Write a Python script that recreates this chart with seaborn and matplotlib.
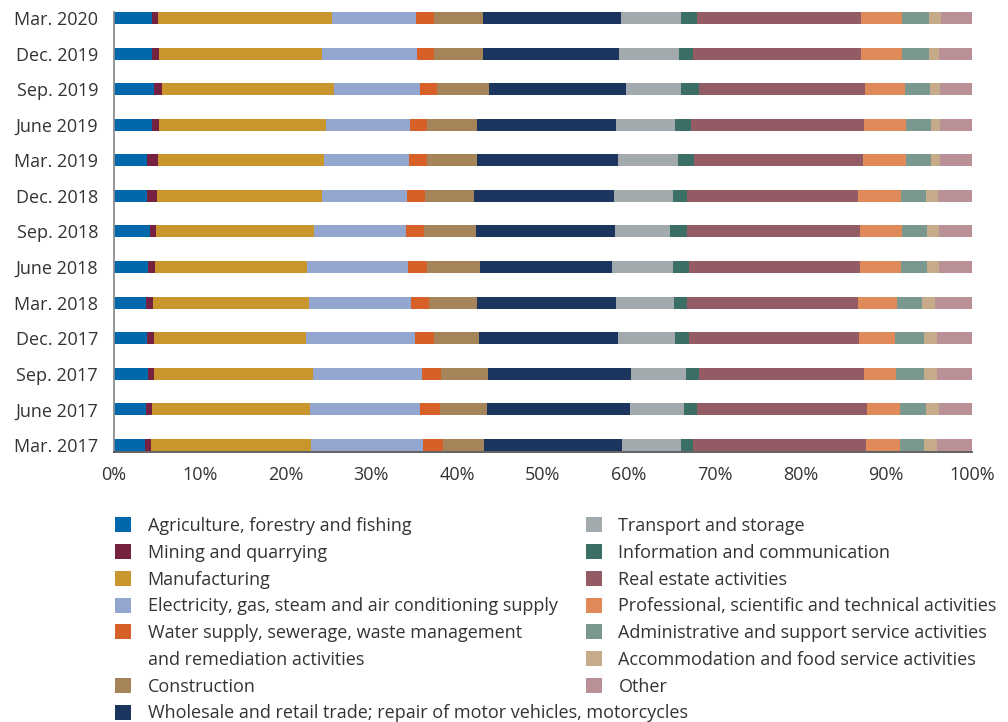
import numpy as np
import matplotlib
matplotlib.use("Agg")
import matplotlib.pyplot as plt
from matplotlib.patches import Patch
import seaborn as sns

# Quarters, listed top to bottom as drawn
periods = ["Mar. 2020", "Dec. 2019", "Sep. 2019", "June 2019", "Mar. 2019",
           "Dec. 2018", "Sep. 2018", "June 2018", "Mar. 2018", "Dec. 2017",
           "Sep. 2017", "June 2017", "Mar. 2017"]

sectors = [
    "Agriculture, forestry and fishing",
    "Mining and quarrying",
    "Manufacturing",
    "Electricity, gas, steam and air conditioning supply",
    "Water supply, sewerage, waste management\nand remediation activities",
    "Construction",
    "Wholesale and retail trade; repair of motor vehicles, motorcycles",
    "Transport and storage",
    "Information and communication",
    "Real estate activities",
    "Professional, scientific and technical activities",
    "Administrative and support service activities",
    "Accommodation and food service activities",
    "Other",
]

colors = ["#0068AB", "#76213F", "#C9952D", "#92A6D0", "#D66027", "#A6845A",
          "#1C355E", "#A3AAAD", "#3B6F66", "#935B64", "#E08A59", "#7A9790",
          "#C6AB8B", "#B99096"]

# Shares of total (%), same order as periods
agriculture = [4.4, 4.4, 4.7, 4.4, 3.9, 3.9, 4.2, 4.0, 3.7, 3.9, 4.0, 3.7, 3.6]
mining = [0.7, 0.9, 0.9, 0.8, 1.2, 1.1, 0.7, 0.8, 0.9, 0.7, 0.7, 0.7, 0.7]
manufacturing = [20.3, 19.0, 20.1, 19.5, 19.4, 19.3, 18.4, 17.7, 18.1, 17.7, 18.5, 18.4, 18.7]
electricity = [9.8, 11.0, 10.0, 9.8, 9.9, 9.8, 10.7, 11.8, 11.9, 12.8, 12.7, 12.8, 13.1]
water = [2.1, 2.0, 2.0, 2.0, 2.1, 2.2, 2.1, 2.2, 2.1, 2.2, 2.2, 2.3, 2.3]
construction = [5.8, 5.7, 6.0, 5.9, 5.9, 5.7, 6.1, 6.1, 5.6, 5.2, 5.5, 5.5, 4.8]
wholesale = [16.0, 15.9, 16.0, 16.2, 16.4, 16.3, 16.2, 15.5, 16.2, 16.2, 16.7, 16.6, 16.1]
transport = [7.1, 7.0, 6.5, 6.8, 7.0, 6.9, 6.4, 7.0, 6.8, 6.6, 6.4, 6.3, 6.8]
information = [1.8, 1.7, 2.0, 1.9, 1.9, 1.6, 2.0, 1.9, 1.5, 1.6, 1.5, 1.5, 1.5]
real_estate = [19.2, 19.6, 19.4, 20.2, 19.7, 19.9, 20.2, 19.9, 19.9, 19.9, 19.2, 19.8, 20.1]
professional = [4.7, 4.7, 4.7, 4.9, 5.0, 5.0, 4.8, 4.8, 4.6, 4.1, 3.7, 3.8, 4.0]
administrative = [3.2, 3.2, 2.9, 2.9, 2.9, 2.9, 3.0, 3.0, 2.9, 3.4, 3.3, 3.0, 2.8]
accommodation = [1.4, 1.2, 1.2, 1.1, 1.1, 1.4, 1.4, 1.5, 1.5, 1.5, 1.5, 1.6, 1.5]
other = [3.6, 3.8, 3.7, 3.7, 3.7, 4.0, 3.8, 3.8, 4.3, 4.1, 4.1, 3.8, 4.1]

xticks = [0, 10, 20, 30, 40, 50, 60, 70, 80, 90, 100]
xtick_labels = [f"{v}%" for v in xticks]

shares = np.array([agriculture, mining, manufacturing, electricity, water,
                   construction, wholesale, transport, information, real_estate,
                   professional, administrative, accommodation, other], dtype=float)
shares = shares / shares.sum(axis=0) * 100
cumulative = shares.cumsum(axis=0)

sns.set_style("white")
plt.rcParams["font.family"] = ["Open Sans", "DejaVu Sans"]
text_color = "#333333"
fs = 13

W, H = 1008, 722
fig = plt.figure(figsize=(W / 100, H / 100), dpi=100)
ax = fig.add_axes([114 / W, 1 - 452 / H, 858 / W, 440 / H])

# 100% stacked bars: draw running totals from the widest down so each
# segment shows through on top of the previous one
bar_w = 0.337
for i in range(len(sectors) - 1, -1, -1):
    sns.barplot(x=cumulative[i], y=periods, color=colors[i], width=bar_w,
                orient="h", saturation=1, linewidth=0, errorbar=None, ax=ax)

ax.set_xlim(0, 100)
ax.set_ylim(12.2, -bar_w / 2)
ax.set_xlabel("")
ax.set_ylabel("")

ax.set_xticks(xticks)
ax.set_xticklabels(xtick_labels)
ax.tick_params(axis="x", which="major", length=5.8, width=1.2, color="#444444",
               pad=4.5, labelsize=fs, labelcolor=text_color)
ax.tick_params(axis="y", which="major", length=0, pad=11.5, labelsize=fs,
               labelcolor=text_color)
ax.set_yticks(np.arange(len(periods)) + bar_w / 2, minor=True)
ax.tick_params(axis="y", which="minor", length=6.5, width=1.2, color="#555555")

for side in ("top", "right"):
    ax.spines[side].set_visible(False)
ax.spines["left"].set_color("#8c8c8c")
ax.spines["left"].set_linewidth(1.3)
ax.spines["bottom"].set_color("#555555")
ax.spines["bottom"].set_linewidth(1.3)


def legend_entries(idx):
    handles, labels = [], []
    for i in idx:
        lines = sectors[i].split("\n")
        handles.append(Patch(facecolor=colors[i], edgecolor="none"))
        labels.append(lines[0])
        for extra in lines[1:]:
            handles.append(Patch(facecolor="none", edgecolor="none"))
            labels.append(extra)
    return handles, labels


legend_kw = dict(loc="upper left", frameon=False, fontsize=fs,
                 handlelength=0.9, handleheight=0.9, handletextpad=0.9,
                 labelspacing=0.485, borderpad=0, borderaxespad=0,
                 labelcolor=text_color)

h1, l1 = legend_entries(range(0, 7))
fig.legend(h1, l1, bbox_to_anchor=(115 / W, 1 - 517 / H), **legend_kw)
h2, l2 = legend_entries(range(7, 14))
fig.legend(h2, l2, bbox_to_anchor=(586 / W, 1 - 517 / H), **legend_kw)

fig.savefig("out.png", dpi=100)
